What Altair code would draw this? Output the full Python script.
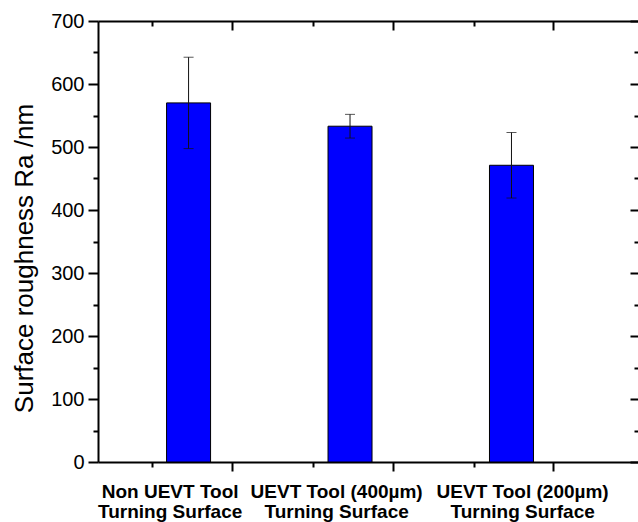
import altair as alt
import pandas as pd

# ---- data ----
categories = ["Non UEVT Tool\nTurning Surface",
              "UEVT Tool (400µm)\nTurning Surface",
              "UEVT Tool (200µm)\nTurning Surface"]
positions = [1, 2, 3]
means = [570, 533, 471]
errors = [72.5, 18.8, 52]

y_major = [0, 100, 200, 300, 400, 500, 600, 700]
y_minor = [50, 150, 250, 350, 450, 550, 650]
x_major = [1.27, 2.265, 3.26]
x_minor = [0.775, 1.77, 2.765]
label_centers = [0.883, 1.914, 3.066]

df = pd.DataFrame({
    "cat": categories,
    "pos": positions,
    "mean": means,
    "lo": [m - e for m, e in zip(means, errors)],
    "hi": [m + e for m, e in zip(means, errors)],
})

xscale = alt.Scale(domain=[0.47, 0.47 + 540 / 164.5], nice=False, zero=False)
yscale = alt.Scale(domain=[0, 700], nice=False, zero=True)

FONT = "Liberation Sans"

def lines_literal(s):
    parts = s.split("\n")
    return "[" + ",".join("'" + p.replace("'", "\\'") + "'" for p in parts) + "]"

label_expr = (
    f"datum.value < 1.4 ? {lines_literal(categories[0])} : "
    f"datum.value < 2.5 ? {lines_literal(categories[1])} : {lines_literal(categories[2])}"
)

def xaxis(**kw):
    base = dict(grid=False, labels=False, domain=False, ticks=True, title=None,
                tickColor="black", tickWidth=2, domainColor="black", domainWidth=2)
    base.update(kw)
    return alt.Axis(**base)

def yaxis(**kw):
    base = dict(grid=False, labels=False, domain=False, ticks=True, title=None,
                tickColor="black", tickWidth=2, domainColor="black", domainWidth=2)
    base.update(kw)
    return alt.Axis(**base)

# bars with bottom major ticks and left major axis
bars = alt.Chart(df).mark_bar(size=44, color="#0000FF", stroke="black", strokeWidth=1).encode(
    x=alt.X("pos:Q", scale=xscale,
            axis=xaxis(orient="bottom", values=x_major, tickSize=9, domain=True)),
    y=alt.Y("mean:Q", scale=yscale,
            axis=yaxis(orient="left", values=y_major, tickSize=10, domain=True,
                       labels=True, labelFont=FONT, labelFontSize=20, labelColor="black",
                       labelPadding=4, labelFlush=False, labelOverlap=False,
                       title="Surface roughness Ra /nm", titleFont=FONT, titleFontSize=26,
                       titleFontWeight="normal", titleColor="black", titleAngle=270,
                       titleX=-66, titleY=237, titleAlign="center",
                       titleBaseline="alphabetic")),
)

def ghost(xax, yax):
    enc = dict(x=alt.X("pos:Q", scale=xscale, axis=xax))
    if yax is not None:
        enc["y"] = alt.Y("mean:Q", scale=yscale, axis=yax)
    return alt.Chart(df).mark_point(opacity=0).encode(**enc)

g1 = ghost(xaxis(orient="bottom", values=x_minor, tickSize=5),
           yaxis(orient="left", values=y_minor, tickSize=5))
g2 = ghost(xaxis(orient="bottom", values=label_centers, ticks=False, labels=True,
                 labelExpr=label_expr, labelFont=FONT, labelFontSize=19,
                 labelFontWeight="bold", labelColor="black", labelPadding=20,
                 labelBaseline="top", labelLineHeight=20, labelFlush=False,
                 labelOverlap=False, labelBound=False),
           yaxis(orient="right", values=y_major, tickSize=8, offset=-8))
g3 = ghost(xaxis(orient="top", values=x_major, tickSize=9, offset=-9),
           yaxis(orient="right", values=y_minor, tickSize=4, offset=-4))
g4 = ghost(xaxis(orient="top", values=x_minor, tickSize=5, offset=-5), None)
g5 = ghost(xaxis(orient="top", ticks=False, domain=True, values=x_major), None)

err = alt.Chart(df).mark_rule(color="#111111", strokeWidth=1).encode(
    x=alt.X("pos:Q", scale=xscale, axis=None),
    y=alt.Y("lo:Q", scale=yscale, axis=None),
    y2="hi:Q",
)
caps_hi = alt.Chart(df).mark_tick(color="#111111", orient="horizontal", size=10, thickness=1).encode(
    x=alt.X("pos:Q", scale=xscale, axis=None),
    y=alt.Y("hi:Q", scale=yscale, axis=None),
)
caps_lo = alt.Chart(df).mark_tick(color="#111111", orient="horizontal", size=10, thickness=1).encode(
    x=alt.X("pos:Q", scale=xscale, axis=None),
    y=alt.Y("lo:Q", scale=yscale, axis=None),
)

chart = alt.layer(bars, err, caps_hi, caps_lo, g1, g2, g3, g4, g5).resolve_axis(
    x="independent", y="independent"
).properties(
    width=540, height=441,
    autosize=alt.AutoSizeParams(type="none"),
    padding={"left": 98, "top": 21, "right": 0, "bottom": 60},
    background="white",
).configure_view(stroke=None)

chart.save("out.html", embed_options={"renderer": "svg", "actions": False})
